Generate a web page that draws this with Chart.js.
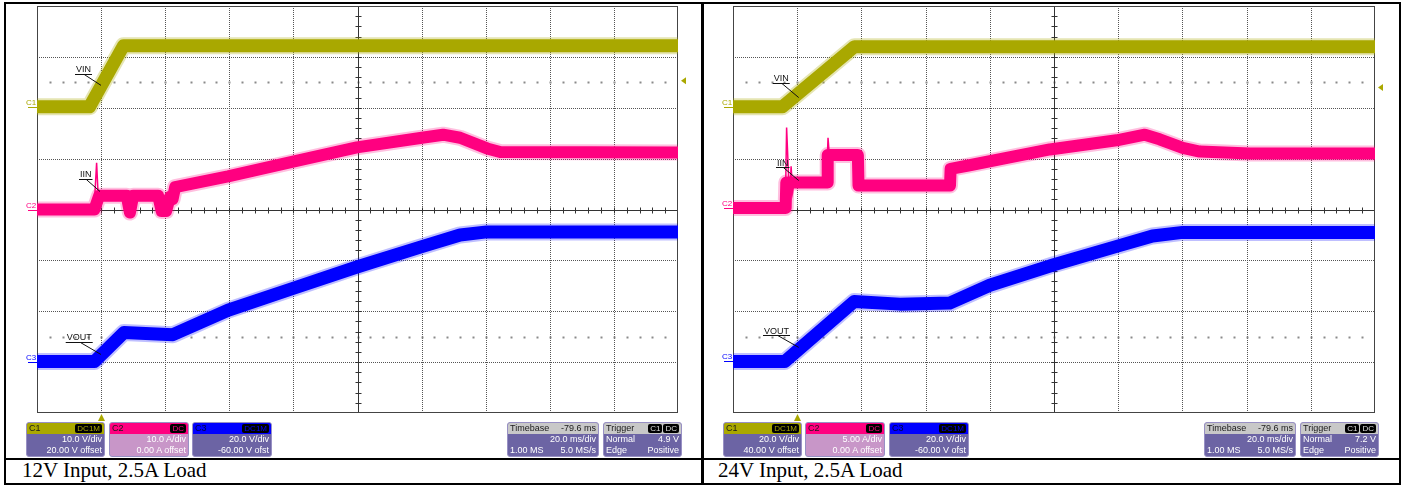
<!DOCTYPE html>
<html>
<head>
<meta charset="utf-8">
<title>Startup waveforms</title>
<script src="https://cdn.jsdelivr.net/npm/chart.js@4/dist/chart.umd.min.js"></script>
<style>
  body { margin: 0; background: #fff; width: 1405px; height: 485px; position: relative; overflow: hidden;
         font-family: "Liberation Sans", Arial, sans-serif; }
  .rule { position: absolute; background: #000; }
  .scope { position: absolute; top: 4px; }
  .box { position: absolute; top: 422px; height: 35px; box-sizing: border-box; border: 1px solid #9890c4;
         border-radius: 3px; background: #6c64a4; color: #fff; font-size: 9px; overflow: hidden; }
  .box .hd { height: 11px; line-height: 11px; padding: 0 2px; color: #1a1a1a; display: flex; justify-content: space-between; }
  .box .ln { height: 11px; line-height: 11px; padding: 0 2px; display: flex; justify-content: space-between; }
  .badge { background: #000; border-radius: 2px; padding: 0 2px; height: 9px; line-height: 9px; margin-top: 1px; font-size: 8px; margin-left: 1px; }
  .caption { position: absolute; top: 460px; font-family: "Liberation Serif", "Times New Roman", serif;
             font-size: 21px; line-height: 21px; color: #000; white-space: nowrap; }
</style>
</head>
<body>

<!-- table rules -->
<div class="rule" style="left:4px;top:2px;width:1397px;height:2px"></div>
<div class="rule" style="left:4px;top:458px;width:1397px;height:2px"></div>
<div class="rule" style="left:4px;top:483px;width:1397px;height:2px"></div>
<div class="rule" style="left:4px;top:2px;width:2px;height:483px"></div>
<div class="rule" style="left:701px;top:2px;width:3px;height:483px"></div>
<div class="rule" style="left:1399px;top:2px;width:2px;height:483px"></div>

<div class="scope" style="left:6px"><canvas id="scope-12v" width="694" height="452"></canvas></div>
<div class="scope" style="left:704px"><canvas id="scope-24v" width="696" height="452"></canvas></div>

<!-- 12V panel readouts -->
<div class="box" style="left:26px;width:79px">
  <div class="hd" style="background:#aaa800"><span>C1</span><span class="badge" style="color:#aaa800">DC1M</span></div>
  <div class="ln"><span></span><span>10.0 V/div</span></div>
  <div class="ln"><span></span><span>20.00 V offset</span></div>
</div>
<div class="box" style="left:109px;width:80px;background:#c896c8">
  <div class="hd" style="background:#ff0080"><span>C2</span><span class="badge" style="color:#ff0080">DC</span></div>
  <div class="ln"><span></span><span>10.0 A/div</span></div>
  <div class="ln"><span></span><span>0.00 A offset</span></div>
</div>
<div class="box" style="left:192px;width:80px">
  <div class="hd" style="background:#0000ff;color:#000040"><span>C3</span><span class="badge" style="color:#0000ff">DC1M</span></div>
  <div class="ln"><span></span><span>20.0 V/div</span></div>
  <div class="ln"><span></span><span>-60.00 V ofst</span></div>
</div>
<div class="box" style="left:507px;width:92px">
  <div class="hd" style="background:#c8c8c8"><span>Timebase</span><span>-79.6 ms</span></div>
  <div class="ln"><span></span><span>20.0 ms/div</span></div>
  <div class="ln"><span>1.00 MS</span><span>5.0 MS/s</span></div>
</div>
<div class="box" style="left:603px;width:79px">
  <div class="hd" style="background:#c8c8c8"><span>Trigger</span><span><span class="badge" style="color:#ddd">C1</span><span class="badge" style="color:#ddd">DC</span></span></div>
  <div class="ln"><span>Normal</span><span>4.9 V</span></div>
  <div class="ln"><span>Edge</span><span>Positive</span></div>
</div>

<!-- 24V panel readouts -->
<div class="box" style="left:723px;width:79px">
  <div class="hd" style="background:#aaa800"><span>C1</span><span class="badge" style="color:#aaa800">DC1M</span></div>
  <div class="ln"><span></span><span>20.0 V/div</span></div>
  <div class="ln"><span></span><span>40.00 V offset</span></div>
</div>
<div class="box" style="left:805px;width:80px;background:#c896c8">
  <div class="hd" style="background:#ff0080"><span>C2</span><span class="badge" style="color:#ff0080">DC</span></div>
  <div class="ln"><span></span><span>5.00 A/div</span></div>
  <div class="ln"><span></span><span>0.00 A offset</span></div>
</div>
<div class="box" style="left:889px;width:80px">
  <div class="hd" style="background:#0000ff;color:#000040"><span>C3</span><span class="badge" style="color:#0000ff">DC1M</span></div>
  <div class="ln"><span></span><span>20.0 V/div</span></div>
  <div class="ln"><span></span><span>-60.00 V ofst</span></div>
</div>
<div class="box" style="left:1204px;width:92px">
  <div class="hd" style="background:#c8c8c8"><span>Timebase</span><span>-79.6 ms</span></div>
  <div class="ln"><span></span><span>20.0 ms/div</span></div>
  <div class="ln"><span>1.00 MS</span><span>5.0 MS/s</span></div>
</div>
<div class="box" style="left:1300px;width:79px">
  <div class="hd" style="background:#c8c8c8"><span>Trigger</span><span><span class="badge" style="color:#ddd">C1</span><span class="badge" style="color:#ddd">DC</span></span></div>
  <div class="ln"><span>Normal</span><span>7.2 V</span></div>
  <div class="ln"><span>Edge</span><span>Positive</span></div>
</div>

<div class="caption" style="left:22px">12V Input, 2.5A Load</div>
<div class="caption" style="left:718px">24V Input, 2.5A Load</div>

<script>
// === Scope captures: soft-start, 12V and 24V input ===
// time = ms from left edge of screen (20 ms/div), values in screen divisions (0 = centre line)

const TIME_TICKS = [0, 20, 40, 60, 80, 100, 120, 140, 160, 180, 200];
const DIV_TICKS = [-4, -3, -2, -1, 0, 1, 2, 3, 4];
const CURSOR_DIVS = [2.5, -2.5];

// 12V input
const L_VIN_T = [0, 16.4, 27.0, 200];
const L_VIN_V = [2.02, 2.02, 3.22, 3.22];
const L_IIN_T = [0, 17.9, 19.4, 28.0, 29.0, 30.0, 37.8, 38.9, 40.3, 41.5, 42.3, 43.1, 59.6, 79.9, 99.8, 120.1, 126.7, 132.0, 140.4, 144.5, 200];
const L_IIN_V = [0, 0, 0.27, 0.27, -0.06, 0.27, 0.27, -0.03, -0.03, 0.25, 0.2, 0.44, 0.65, 0.94, 1.22, 1.41, 1.47, 1.41, 1.2, 1.13, 1.12];
const L_IIN_SPIKE_T = [17.8, 18.6, 19.3, 19.7];
const L_IIN_SPIKE_V = [0, 0.92, -0.02, 0.27];
const L_VOUT_T = [0, 17.9, 27.1, 42.4, 59.6, 79.9, 99.8, 120.1, 132.0, 140.4, 200];
const L_VOUT_V = [-2.99, -2.99, -2.42, -2.46, -1.98, -1.55, -1.13, -0.73, -0.5, -0.44, -0.44];

// 24V input
const R_VIN_T = [0, 15.4, 37.8, 200];
const R_VIN_V = [2.02, 2.02, 3.2, 3.2];
const R_IIN_T = [0, 16.4, 16.6, 29.3, 29.5, 38.9, 39.1, 67.6, 67.8, 73.7, 98.7, 119.5, 128.3, 132.9, 140.1, 145.4, 161.0, 200];
const R_IIN_V = [0.03, 0.03, 0.53, 0.53, 1.07, 1.07, 0.47, 0.47, 0.8, 0.87, 1.18, 1.36, 1.47, 1.38, 1.21, 1.14, 1.1, 1.1];
const R_IIN_SPIKE1_T = [16.3, 16.7, 17.6, 18.1, 18.6, 19.0];
const R_IIN_SPIKE1_V = [0.03, 1.61, 0.2, 0.85, 0.35, 0.53];
const R_IIN_SPIKE2_T = [29.1, 29.6, 30.1, 30.6];
const R_IIN_SPIKE2_V = [0.53, 1.41, 1.0, 1.12];
const R_VOUT_T = [0, 16.1, 37.7, 52.0, 67.5, 80.0, 100.2, 119.8, 130.7, 140.1, 200];
const R_VOUT_V = [-2.99, -2.99, -1.81, -1.86, -1.84, -1.49, -1.08, -0.72, -0.52, -0.45, -0.45];

const YELLOW = '#aaa800';
const PINK = '#ff0080';
const BLUE = '#0000ff';

function pts(ts, vs) {
  return ts.map((t, i) => ({ x: t, y: vs[i] }));
}

// noisy band = soft wide stroke + solid core
function band(ts, vs, color, fringe, width) {
  return [
    { data: pts(ts, vs), borderColor: fringe, borderWidth: width + 4 },
    { data: pts(ts, vs), borderColor: color, borderWidth: width },
  ];
}

function thin(ts, vs, color) {
  return { data: pts(ts, vs), borderColor: color, borderWidth: 1.5, borderJoinStyle: 'miter' };
}

function makeDecor(cfg) {
  return {
    id: 'scopeDecor',
    beforeDatasetsDraw(chart) {
      const { ctx, chartArea: a, scales: { x, y } } = chart;
      const px = t => Math.min(Math.round(x.getPixelForValue(t)), a.right - 1) + 0.5;
      const py = v => Math.min(Math.round(y.getPixelForValue(v)), a.bottom - 1) + 0.5;
      ctx.save();
      ctx.lineWidth = 1;

      // dotted graticule
      ctx.strokeStyle = '#555';
      ctx.setLineDash([1, 1]);
      ctx.beginPath();
      TIME_TICKS.forEach(t => { ctx.moveTo(px(t), a.top); ctx.lineTo(px(t), a.bottom); });
      DIV_TICKS.forEach(v => { ctx.moveTo(a.left, py(v)); ctx.lineTo(a.right, py(v)); });
      ctx.stroke();
      ctx.setLineDash([]);

      // cursor dots
      ctx.fillStyle = '#8a8a8a';
      CURSOR_DIVS.forEach(v => {
        for (let i = 1; i < 50; i++) ctx.fillRect(px(i * 4) - 1, py(v) - 1, 2, 2);
      });

      // centre axes with minor ticks
      ctx.strokeStyle = '#333';
      const cx = px(100), cy = py(0);
      ctx.beginPath();
      ctx.moveTo(cx, a.top); ctx.lineTo(cx, a.bottom);
      ctx.moveTo(a.left, cy); ctx.lineTo(a.right, cy);
      for (let i = 0; i <= 50; i++) { const t = px(i * 4); ctx.moveTo(t, cy - 3); ctx.lineTo(t, cy + 3); }
      for (let i = 0; i <= 40; i++) { const v = py(-4 + i * 0.2); ctx.moveTo(cx - 3, v); ctx.lineTo(cx + 3, v); }
      ctx.stroke();

      ctx.strokeStyle = '#444';
      ctx.strokeRect(a.left + 0.5, a.top + 0.5, a.width - 1, a.height - 1);
      ctx.restore();
    },
    afterDatasetsDraw(chart) {
      const { ctx, chartArea: a, scales: { x, y } } = chart;
      ctx.save();
      ctx.lineWidth = 1;

      // VIN / IIN / VOUT call-outs
      ctx.font = '9px "Liberation Sans", Arial, sans-serif';
      ctx.fillStyle = '#111';
      ctx.strokeStyle = '#111';
      cfg.notes.forEach(n => {
        const tx = x.getPixelForValue(n.t), ty = y.getPixelForValue(n.v);
        const w = ctx.measureText(n.text).width;
        ctx.fillText(n.text, tx, ty);
        const uy = Math.round(ty + 1.5) + 0.5;
        ctx.beginPath();
        ctx.moveTo(tx - 1, uy); ctx.lineTo(tx + w + 1, uy);
        ctx.moveTo(tx + w * 0.55, uy);
        ctx.lineTo(x.getPixelForValue(n.endT), y.getPixelForValue(n.endV));
        ctx.stroke();
      });

      // channel ground markers
      ctx.font = '8px "Liberation Sans", Arial, sans-serif';
      cfg.channels.forEach(c => {
        const yy = Math.round(y.getPixelForValue(c.v)) + 0.5;
        ctx.fillStyle = c.color;
        ctx.strokeStyle = c.color;
        ctx.fillText(c.name, a.left - 11, yy - 3);
        ctx.beginPath(); ctx.moveTo(a.left - 9, yy); ctx.lineTo(a.left, yy); ctx.stroke();
      });

      // trigger level (right) and trigger position (below)
      ctx.fillStyle = YELLOW;
      const ty = y.getPixelForValue(cfg.trigLevel);
      ctx.beginPath();
      ctx.moveTo(a.right + 3, ty); ctx.lineTo(a.right + 8, ty - 3.5); ctx.lineTo(a.right + 8, ty + 3.5);
      ctx.closePath(); ctx.fill();
      const tx = Math.round(x.getPixelForValue(20)) + 0.5;
      ctx.beginPath();
      ctx.moveTo(tx, a.bottom + 1); ctx.lineTo(tx + 3.5, a.bottom + 8); ctx.lineTo(tx - 3.5, a.bottom + 8);
      ctx.closePath(); ctx.fill();
      ctx.restore();
    }
  };
}

function scopeChart(id, datasets, padding, cfg) {
  return new Chart(document.getElementById(id), {
    type: 'line',
    data: { datasets: datasets.map(d => Object.assign({ clip: 0, pointRadius: 0, fill: false }, d)) },
    options: {
      responsive: false,
      animation: false,
      devicePixelRatio: 1,
      layout: { padding },
      plugins: { legend: { display: false }, tooltip: { enabled: false } },
      elements: { line: { tension: 0, borderJoinStyle: 'round', borderCapStyle: 'butt' } },
      scales: {
        x: { type: 'linear', min: 0, max: 200, display: false },
        y: { type: 'linear', min: -4, max: 4, display: false }
      }
    },
    plugins: [makeDecor(cfg)]
  });
}

scopeChart('scope-12v', [
  ...band(L_VIN_T, L_VIN_V, YELLOW, 'rgba(170,168,0,0.3)', 13),
  ...band(L_VOUT_T, L_VOUT_V, BLUE, 'rgba(0,0,255,0.25)', 13),
  ...band(L_IIN_T, L_IIN_V, PINK, 'rgba(255,0,128,0.25)', 12),
  thin(L_IIN_SPIKE_T, L_IIN_SPIKE_V, PINK),
], { left: 31, right: 22, top: 2, bottom: 43 }, {
  trigLevel: 2.53,
  notes: [
    { text: 'VIN', t: 12.17, v: 2.70, endT: 19.97, endV: 2.44 },
    { text: 'IIN', t: 13.42, v: 0.635, endT: 19.66, endV: 0.354 },
    { text: 'VOUT', t: 9.27, v: -2.57, endT: 19.97, endV: -2.85 },
  ],
  channels: [
    { name: 'C1', v: 2.02, color: YELLOW },
    { name: 'C2', v: 0, color: PINK },
    { name: 'C3', v: -2.99, color: BLUE },
  ]
});

scopeChart('scope-24v', [
  ...band(R_VIN_T, R_VIN_V, YELLOW, 'rgba(170,168,0,0.3)', 13),
  ...band(R_VOUT_T, R_VOUT_V, BLUE, 'rgba(0,0,255,0.25)', 13),
  ...band(R_IIN_T, R_IIN_V, PINK, 'rgba(255,0,128,0.25)', 12),
  thin(R_IIN_SPIKE1_T, R_IIN_SPIKE1_V, PINK),
  thin(R_IIN_SPIKE2_T, R_IIN_SPIKE2_V, PINK),
], { left: 29, right: 25, top: 2, bottom: 43 }, {
  trigLevel: 2.40,
  notes: [
    { text: 'VIN', t: 12.68, v: 2.52, endT: 20.47, endV: 2.20 },
    { text: 'IIN', t: 13.71, v: 0.864, endT: 20.47, endV: 0.57 },
    { text: 'VOUT', t: 9.66, v: -2.44, endT: 20.47, endV: -2.71 },
  ],
  channels: [
    { name: 'C1', v: 2.02, color: YELLOW },
    { name: 'C2', v: 0.02, color: PINK },
    { name: 'C3', v: -2.98, color: BLUE },
  ]
});
</script>
</body>
</html>
